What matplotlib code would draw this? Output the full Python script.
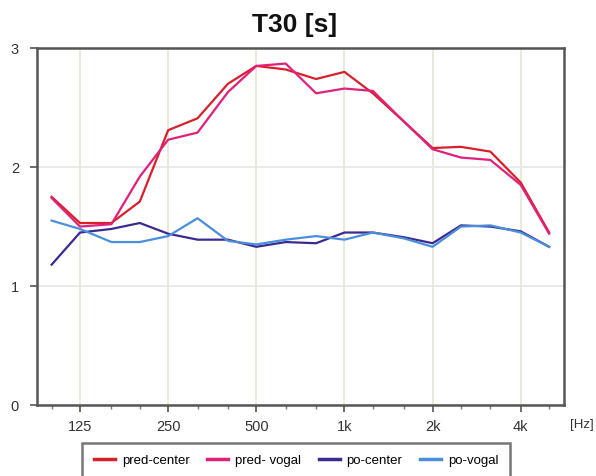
import matplotlib
matplotlib.use("Agg")
import matplotlib.pyplot as plt
from matplotlib.ticker import FixedLocator, NullFormatter

plt.rcParams["font.family"] = ["Liberation Sans", "DejaVu Sans"]

# 1/3 octave bands [Hz]
freqs = [100, 125, 160, 200, 250, 315, 400, 500, 630, 800,
         1000, 1250, 1600, 2000, 2500, 3150, 4000, 5000]

# T30 [s]
pred_center = [1.75, 1.53, 1.53, 1.71, 2.31, 2.41, 2.70, 2.85, 2.82, 2.74,
               2.80, 2.62, 2.38, 2.16, 2.17, 2.13, 1.87, 1.45]
pred_vogal = [1.74, 1.50, 1.52, 1.92, 2.23, 2.29, 2.63, 2.85, 2.87, 2.62,
              2.66, 2.64, 2.38, 2.15, 2.08, 2.06, 1.85, 1.44]
po_center = [1.18, 1.45, 1.48, 1.53, 1.44, 1.39, 1.39, 1.33, 1.37, 1.36,
             1.45, 1.45, 1.41, 1.36, 1.51, 1.50, 1.46, 1.33]
po_vogal = [1.55, 1.48, 1.37, 1.37, 1.42, 1.57, 1.38, 1.35, 1.39, 1.42,
            1.39, 1.45, 1.40, 1.33, 1.50, 1.51, 1.45, 1.33]

major_ticks = [125, 250, 500, 1000, 2000, 4000]
major_labels = ["125", "250", "500", "1k", "2k", "4k"]

series = [
    ("pred-center", pred_center, "#d8202a"),
    ("pred- vogal", pred_vogal, "#e0207a"),
    ("po-center", po_center, "#3b2a90"),
    ("po-vogal", po_vogal, "#4a8fdc"),
]

fig = plt.figure(figsize=(5.96, 4.76), dpi=100)
ax = fig.add_axes([0.062, 0.149, 0.884, 0.750])

for name, vals, col in series:
    ax.plot(freqs, vals, color=col, linewidth=1.6, label=name)

ax.set_xscale("log")
ax.set_xlim(100 / 2 ** (1 / 6), 5000 * 2 ** (1 / 6))
ax.set_ylim(0, 3)

ax.xaxis.set_major_locator(FixedLocator(major_ticks))
ax.set_xticklabels(major_labels)
ax.xaxis.set_minor_locator(FixedLocator([f for f in freqs if f not in major_ticks]))
ax.xaxis.set_minor_formatter(NullFormatter())
ax.set_yticks([0, 1, 2, 3])

ax.grid(True, axis="x", which="major", color="#e6e6d4", linewidth=1.2)
ax.grid(True, axis="y", which="major", color="#e6e6e6", linewidth=1.2)
ax.set_axisbelow(True)

for s in ax.spines.values():
    s.set_color("#555555")
    s.set_linewidth(1.8)

ax.tick_params(axis="both", which="major", labelsize=10.5, colors="#555555",
               labelcolor="#333333", length=5, width=1.2, pad=6)
ax.tick_params(axis="x", which="minor", length=3, width=1.0, colors="#777777")
ax.tick_params(axis="y", pad=8)

fig.text(0.977, 1 - 425 / 476, "[Hz]", fontsize=9.5, color="#333333",
         ha="center", va="center")

fig.text(0.495, 1 - 25 / 476, "T30 [s]", fontsize=19, fontweight="bold",
         ha="center", va="center", color="#111111")

leg = fig.legend(loc="upper center", bbox_to_anchor=(0.497, 1 - 436 / 476),
                 ncol=4, fontsize=9.5, frameon=True, fancybox=False,
                 handlelength=1.6, handletextpad=0.5, columnspacing=1.35,
                 borderpad=0.9)
leg.get_frame().set_edgecolor("#555555")
leg.get_frame().set_linewidth(1.8)
for line in leg.get_lines():
    line.set_linewidth(2.5)

fig.savefig("out.png", dpi=100)
